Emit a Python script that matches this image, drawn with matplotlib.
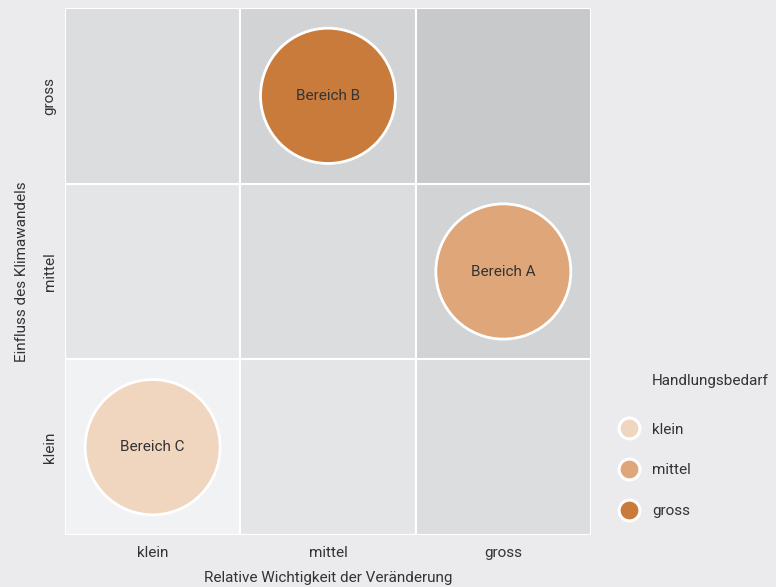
import matplotlib
matplotlib.use("Agg")
import matplotlib.pyplot as plt
from matplotlib.patches import Circle, Rectangle
from matplotlib.lines import Line2D

plt.rcParams['font.family'] = ['Roboto', 'DejaVu Sans']

levels = ["klein", "mittel", "gross"]
# cell shades: rows = Einfluss (klein, mittel, gross), cols = Wichtigkeit (klein, mittel, gross)
cell_colors = [
    ["#f1f2f4", "#e4e5e7", "#dcdddf"],
    ["#e4e5e7", "#dcdddf", "#d2d3d5"],
    ["#dcdddf", "#d2d3d5", "#c8c9cb"],
]
areas = ["Bereich A", "Bereich B", "Bereich C"]
area_x = ["gross", "mittel", "klein"]
area_y = ["mittel", "gross", "klein"]
area_need = ["mittel", "gross", "klein"]
need_colors = {"klein": "#f0d5bf", "mittel": "#dea679", "gross": "#c97b3c"}

fs = 11
tc = "#333333"
bg = "#ebebed"
fig = plt.figure(figsize=(7.76, 5.87), dpi=100, facecolor=bg)
ax = fig.add_axes([65/776, 52/587, 526/776, 527/587])
ax.set_facecolor(bg)

for r in range(3):
    for c in range(3):
        ax.add_patch(Rectangle((c, r), 1, 1, facecolor=cell_colors[r][c],
                               edgecolor="white", linewidth=1.5))

for name, xv, yv, nv in zip(areas, area_x, area_y, area_need):
    cx = levels.index(xv) + 0.5
    cy = levels.index(yv) + 0.5
    ax.add_patch(Circle((cx, cy), 0.385, facecolor=need_colors[nv],
                        edgecolor="white", linewidth=2, zorder=3))
    ax.text(cx, cy, name, ha="center", va="center", fontsize=fs,
            color=tc, zorder=4)

ax.set_xlim(0, 3)
ax.set_ylim(0, 3)
ax.set_xticks([0.5, 1.5, 2.5])
ax.set_xticklabels(levels)
ax.set_yticks([0.5, 1.5, 2.5])
ax.set_yticklabels(levels, rotation=90, va="center")
ax.tick_params(axis="x", length=0, labelsize=fs, labelcolor=tc, pad=8)
ax.tick_params(axis="y", length=0, labelsize=fs, labelcolor=tc, pad=6)
for s in ax.spines.values():
    s.set_visible(False)
ax.set_xlabel("Relative Wichtigkeit der Veränderung", fontsize=fs, color=tc, labelpad=8)
ax.set_ylabel("Einfluss des Klimawandels", fontsize=fs, color=tc, labelpad=10)

handles = [Line2D([], [], marker="o", linestyle="", markersize=15,
                  markerfacecolor=need_colors[l], markeredgecolor="white",
                  markeredgewidth=2.2) for l in levels]
leg = fig.legend(handles, levels, loc="upper left",
                 bbox_to_anchor=(600/776, 1 - 409/587), frameon=False,
                 fontsize=fs, labelspacing=1.75, handlelength=2.0,
                 handletextpad=0.5, borderpad=0.4)
for t in leg.get_texts():
    t.set_color(tc)
fig.text(652/776, 1 - 381/587, "Handlungsbedarf", fontsize=fs, color=tc,
         ha="left", va="center")

fig.savefig("out.png", dpi=100, facecolor=bg)
